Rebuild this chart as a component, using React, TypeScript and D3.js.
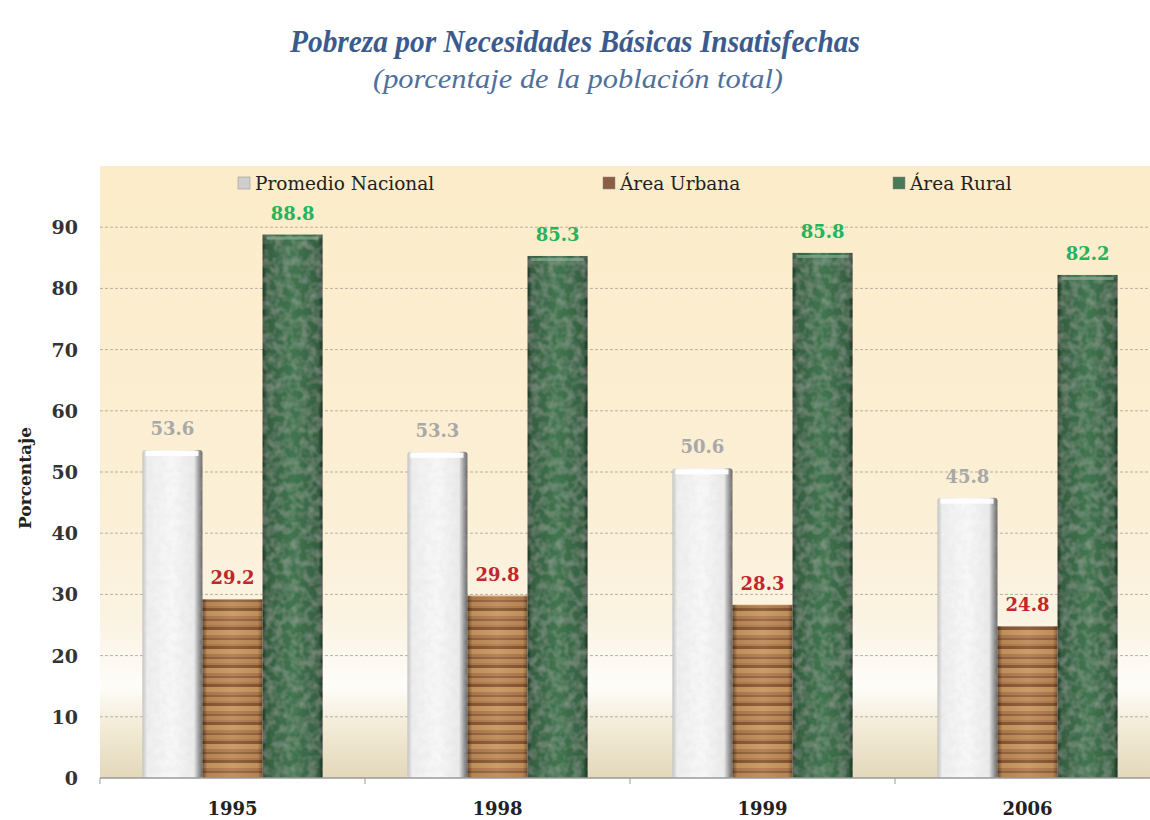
import * as d3 from 'd3';

const years = ['1995', '1998', '1999', '2006'];
const seriesNames = ['Promedio Nacional', 'Área Urbana', 'Área Rural'];
const promedioNacional = [53.6, 53.3, 50.6, 45.8];
const areaUrbana = [29.2, 29.8, 28.3, 24.8];
const areaRural = [88.8, 85.3, 85.8, 82.2];
const yTicks = [0, 10, 20, 30, 40, 50, 60, 70, 80, 90];

const W = 1150;
const H = 820;
const plot = { left: 100, right: 1160, top: 166, bottom: 778 };

const fills = ['url(#gWhite)', 'url(#pWood)', 'url(#gGreen)'];
const labelColors = ['#a8a8a8', '#c0272d', '#27b35a'];
const legendColors = ['#cfcfcf', '#8b5e45', '#4a7a55'];
const legendX = [238, 603, 893];

const serif = '"DejaVu Serif", serif';

export default function App() {
  const values = [promedioNacional, areaUrbana, areaRural];

  const x0 = d3.scaleBand<string>().domain(years).range([plot.left, plot.right]);
  const bw = x0.bandwidth();
  const x1 = d3
    .scaleBand<string>()
    .domain(seriesNames)
    .range([bw * 0.16, bw * 0.84]);
  const y = d3.scaleLinear().domain([0, 100]).range([plot.bottom, plot.top]);

  return (
    <svg
      width={W}
      height={H}
      style={{ position: 'absolute', left: 0, top: 0, background: '#fff' }}
    >
      <defs>
        <linearGradient id="gBg" gradientUnits="userSpaceOnUse" x1="0" y1={plot.top} x2="0" y2={plot.bottom}>
          <stop offset="0" stopColor="#fcecc9" />
          <stop offset="0.55" stopColor="#fbefd5" />
          <stop offset="0.74" stopColor="#fbf3e2" />
          <stop offset="0.85" stopColor="#fefdf9" />
          <stop offset="0.92" stopColor="#f2ead5" />
          <stop offset="1" stopColor="#e3d8bb" />
        </linearGradient>
        <linearGradient id="gWhite" x1="0" y1="0" x2="1" y2="0">
          <stop offset="0" stopColor="#c4c4c4" />
          <stop offset="0.08" stopColor="#efefef" />
          <stop offset="0.5" stopColor="#f8f8f8" />
          <stop offset="0.86" stopColor="#ebebeb" />
          <stop offset="0.94" stopColor="#9a9a9a" />
          <stop offset="1" stopColor="#666" />
        </linearGradient>
        <linearGradient id="gGreen" x1="0" y1="0" x2="1" y2="0">
          <stop offset="0" stopColor="#1f3825" />
          <stop offset="0.07" stopColor="#355f40" />
          <stop offset="0.5" stopColor="#417650" />
          <stop offset="0.93" stopColor="#355f40" />
          <stop offset="1" stopColor="#1d3323" />
        </linearGradient>
        <linearGradient id="gEdge" x1="0" y1="0" x2="1" y2="0">
          <stop offset="0" stopColor="#000" stopOpacity="0.45" />
          <stop offset="0.08" stopColor="#000" stopOpacity="0.05" />
          <stop offset="0.5" stopColor="#fff" stopOpacity="0.06" />
          <stop offset="0.92" stopColor="#000" stopOpacity="0.05" />
          <stop offset="1" stopColor="#000" stopOpacity="0.35" />
        </linearGradient>
        <pattern id="pWood" patternUnits="userSpaceOnUse" width="60" height="19">
          <rect width="60" height="19" fill="#b07c50" />
          <rect y="0" width="60" height="3" fill="#8a5834" />
          <rect y="3" width="60" height="5" fill="#c9975f" />
          <rect y="11" width="60" height="2" fill="#96643e" />
          <rect y="13" width="60" height="4" fill="#c08a58" />
        </pattern>
        <filter id="fTex" x="0" y="0" width="100%" height="100%">
          <feTurbulence type="fractalNoise" baseFrequency="0.12" numOctaves="2" seed="3" result="n" />
          <feColorMatrix in="n" type="matrix"
            values="0 0 0 0 1  0 0 0 0 1  0 0 0 0 1  0 0 0 0.28 -0.1" result="w" />
          <feComposite in="w" in2="SourceGraphic" operator="in" result="t" />
          <feMerge>
            <feMergeNode in="SourceGraphic" />
            <feMergeNode in="t" />
          </feMerge>
        </filter>
        <filter id="fTexW" x="0" y="0" width="100%" height="100%">
          <feTurbulence type="fractalNoise" baseFrequency="0.15" numOctaves="2" seed="7" result="n" />
          <feColorMatrix in="n" type="matrix"
            values="0 0 0 0 0.55  0 0 0 0 0.55  0 0 0 0 0.55  0 0 0 0.3 -0.1" result="w" />
          <feComposite in="w" in2="SourceGraphic" operator="in" result="t" />
          <feMerge>
            <feMergeNode in="SourceGraphic" />
            <feMergeNode in="t" />
          </feMerge>
        </filter>
      </defs>

      {/* title */}
      <text x={575} y={52} textAnchor="middle" fill="#3b5b8e" fontFamily='"Liberation Serif", serif'
        fontStyle="italic" fontWeight="bold" fontSize={31} textLength={570} lengthAdjust="spacingAndGlyphs">
        Pobreza por Necesidades Básicas Insatisfechas
      </text>
      <text x={578} y={88} textAnchor="middle" fill="#50709b" fontFamily='"Liberation Serif", serif'
        fontStyle="italic" fontSize={27} textLength={410} lengthAdjust="spacingAndGlyphs">
        (porcentaje de la población total)
      </text>

      {/* plot background */}
      <rect x={plot.left} y={plot.top} width={plot.right - plot.left} height={plot.bottom - plot.top} fill="url(#gBg)" />

      {/* gridlines */}
      {yTicks.filter((t) => t > 0).map((t) => (
        <line key={t} x1={plot.left} x2={plot.right} y1={y(t)} y2={y(t)}
          stroke="#b8b0a0" strokeWidth={1} strokeDasharray="3,2" />
      ))}

      {/* legend */}
      {seriesNames.map((s, i) => (
        <g key={s} transform={`translate(${legendX[i]},${183})`}>
          <rect x={0} y={-6} width={12} height={12} fill={legendColors[i]} stroke="#888" strokeWidth={0.5} />
          <text x={17} y={6.5} fontFamily={serif} fontSize={18.5} fill="#222">{s}</text>
        </g>
      ))}

      {/* bars */}
      {years.map((yr, j) => (
        <g key={yr} transform={`translate(${x0(yr)},0)`}>
          {seriesNames.map((s, i) => {
            const v = values[i][j];
            const bx = x1(s)!;
            const w = x1.bandwidth();
            const top = y(v);
            const h = plot.bottom - top;
            return (
              <g key={s}>
                <rect x={bx} y={top} width={w} height={h} fill={fills[i]}
                  rx={i === 0 ? 3 : 0}
                  filter={i === 0 ? 'url(#fTexW)' : i === 2 ? 'url(#fTex)' : undefined} />
                {i === 1 && <rect x={bx} y={top} width={w} height={h} fill="url(#gEdge)" />}
                {i === 2 && <rect x={bx + 4} y={top + 2} width={w - 8} height={3} fill="#8fb59a" opacity={0.6} />}
                {i === 0 && <rect x={bx + 3} y={top + 1} width={w - 7} height={5} fill="#ffffff" opacity={0.9} />}
                <text x={bx + w / 2} y={top - 15} textAnchor="middle" fontFamily={serif}
                  fontWeight="bold" fontSize={18} fill={labelColors[i]}>
                  {v.toFixed(1)}
                </text>
              </g>
            );
          })}
        </g>
      ))}

      {/* x axis */}
      <line x1={plot.left} x2={plot.right} y1={plot.bottom} y2={plot.bottom} stroke="#9a9a9a" strokeWidth={1.5} />
      {[...years.map((yr) => x0(yr)!), plot.right].map((tx, i) => (
        <line key={i} x1={tx} x2={tx} y1={plot.bottom} y2={plot.bottom + 6} stroke="#9a9a9a" />
      ))}
      {years.map((yr) => (
        <text key={yr} x={x0(yr)! + bw / 2} y={815} textAnchor="middle" fontFamily={serif}
          fontWeight="bold" fontSize={18} fill="#222">
          {yr}
        </text>
      ))}

      {/* y axis */}
      {yTicks.map((t) => (
        <text key={t} x={78} y={y(t) + 7} textAnchor="end" fontFamily={serif}
          fontWeight="bold" fontSize={19} fill="#333">
          {t}
        </text>
      ))}
      <text transform={`translate(31,${478}) rotate(-90)`} textAnchor="middle" fontFamily={serif}
        fontWeight="bold" fontSize={17} fill="#222">
        Porcentaje
      </text>
    </svg>
  );
}
